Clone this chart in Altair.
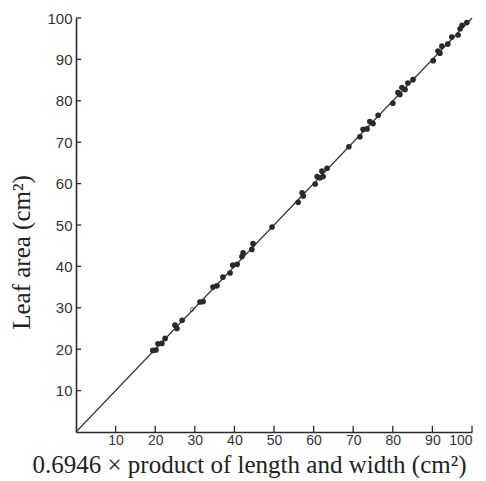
import altair as alt
import pandas as pd

# measured points (x = 0.6946 * length * width, y = leaf area), cm^2
x_vals = [19.4, 20.2, 20.7, 21.7, 22.5, 25.0, 25.5, 26.8, 31.3, 32.1, 34.6, 35.6,
          37.1, 38.9, 39.6, 40.7, 41.9, 42.2, 44.4, 44.7, 49.5,
          56.1, 57.1, 57.4, 60.4, 60.9, 61.6, 62.1, 62.4, 63.4, 68.9,
          71.7, 72.5, 73.5, 74.2, 75.0, 76.3, 80.0, 81.3, 81.8, 82.3, 83.1, 83.8, 85.1,
          90.2, 91.4, 91.9, 92.4, 93.9, 94.9, 96.5, 97.0, 97.5, 98.7]
y_vals = [19.7, 19.8, 21.3, 21.4, 22.6, 25.8, 25.0, 27.0, 31.4, 31.5, 35.0, 35.3,
          37.4, 38.4, 40.3, 40.5, 42.4, 43.3, 44.1, 45.5, 49.5,
          55.5, 57.8, 57.0, 59.9, 61.7, 61.4, 63.0, 61.7, 63.7, 68.9,
          71.3, 73.1, 73.2, 75.0, 74.5, 76.5, 79.4, 82.0, 81.5, 83.2, 82.7, 84.3, 85.1,
          89.7, 92.0, 91.5, 93.2, 93.7, 95.4, 95.9, 97.4, 98.2, 98.9]
open_x = [29.3]
open_y = [29.6]
line_x = [0, 100]
line_y = [0, 100]
tick_vals = [10, 20, 30, 40, 50, 60, 70, 80, 90, 100]

pts = pd.DataFrame({"x": x_vals, "y": y_vals})
opts = pd.DataFrame({"x": open_x, "y": open_y})
line_df = pd.DataFrame({"x": line_x, "y": line_y})
ticks_df = pd.DataFrame({"v": tick_vals, "z": [0] * len(tick_vals),
                         "len_x": [1.5] * len(tick_vals), "len_y": [1.3] * len(tick_vals)})

ink = "#2a2a2a"
xs = alt.Scale(domain=[0, 100], nice=False, zero=True)
ys = alt.Scale(domain=[0, 100], nice=False, zero=True)

x_axis = alt.Axis(values=tick_vals, ticks=False, tickSize=0, grid=False,
                  domainColor=ink, domainWidth=1.6,
                  labelFont="Liberation Sans", labelFontSize=14, labelColor="#333",
                  labelPadding=1,
                  title="0.6946 × product of length and width (cm²)",
                  titleFont="Liberation Serif", titleFontSize=25, titleFontWeight="normal",
                  titleColor="#222", titleX=173, titleY=40, titleAlign="center",
                  titleBaseline="alphabetic")
y_axis = alt.Axis(values=tick_vals, ticks=False, tickSize=0, grid=False,
                  domainColor=ink, domainWidth=1.6,
                  labelFont="Liberation Sans", labelFontSize=15, labelColor="#333",
                  labelPadding=4,
                  title="Leaf area (cm²)",
                  titleFont="Liberation Serif", titleFontSize=25, titleFontWeight="normal",
                  titleColor="#222", titleX=-47, titleY=234, titleAlign="center",
                  titleBaseline="alphabetic", titleAngle=270)

line = alt.Chart(line_df).mark_line(color="#333", strokeWidth=1.2).encode(
    x=alt.X("x:Q", scale=xs, axis=x_axis),
    y=alt.Y("y:Q", scale=ys, axis=y_axis),
)

dots = alt.Chart(pts).mark_circle(size=32, color=ink, opacity=1).encode(
    x=alt.X("x:Q", scale=xs),
    y=alt.Y("y:Q", scale=ys),
)

hollow = alt.Chart(opts).mark_point(size=14, color=ink, strokeWidth=1, filled=False).encode(
    x=alt.X("x:Q", scale=xs),
    y=alt.Y("y:Q", scale=ys),
)

xticks = alt.Chart(ticks_df).mark_rule(color=ink, strokeWidth=1.3).encode(
    x=alt.X("v:Q", scale=xs),
    y=alt.Y("z:Q", scale=ys),
    y2="len_x:Q",
)
yticks = alt.Chart(ticks_df).mark_rule(color=ink, strokeWidth=1.3).encode(
    y=alt.Y("v:Q", scale=ys),
    x=alt.X("z:Q", scale=xs),
    x2="len_y:Q",
)

chart = alt.layer(line, xticks, yticks, dots, hollow).properties(
    width=396, height=414,
    autosize=alt.AutoSizeParams(type="none"),
    padding={"left": 68, "top": 10, "right": 6, "bottom": 46},
    background="white",
).configure_view(stroke=None)

chart.save("out.html", embed_options={"renderer": "svg", "actions": False})
